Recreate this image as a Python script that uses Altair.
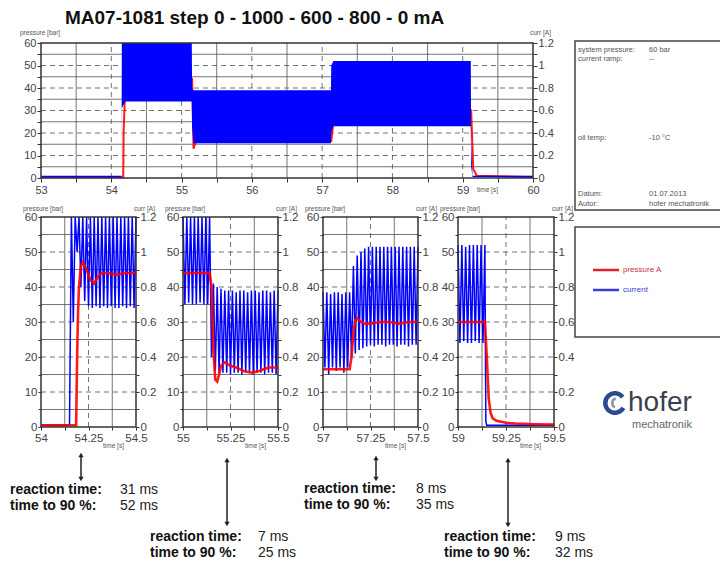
import altair as alt
import pandas as pd

W, H = 720, 567
FONT = "Liberation Sans"
RED = "#ff0000"
BLUE = "#0000ff"
GRID_C = "#505050"

TITLE = "MA07-1081 step 0 - 1000 - 600 - 800 - 0 mA"

# ---------------- top overview (53 s .. 60 s) ----------------
TOP_CUR_T = [53.00, 54.145, 54.15, 54.20, 55.145, 55.15, 55.17, 57.125, 57.13, 57.16, 59.115, 59.12, 59.14, 60.00]
TOP_CUR_LO = [0.005, 0.005, 0.62, 0.68, 0.68, 0.45, 0.31, 0.31, 0.40, 0.46, 0.46, 0.10, 0.01, 0.005]
TOP_CUR_HI = [0.02, 0.02, 1.20, 1.20, 1.20, 0.80, 0.78, 0.78, 1.00, 1.04, 1.04, 0.30, 0.02, 0.02]
TOP_P_T = [53.00, 54.17, 54.175, 54.19, 54.21, 55.15, 55.17, 55.19, 55.22, 57.13, 57.15, 57.17, 59.12, 59.15, 59.20, 60.00]
TOP_P = [0.3, 0.3, 20, 33, 44, 44, 13, 15, 17, 16.5, 22, 30, 30, 4, 1, 0.4]

# ---------------- zoom panels ----------------
P1_CUR_T = [54.00, 54.15, 54.16, 54.17, 54.18, 54.19, 54.20, 54.21, 54.22, 54.23, 54.24, 54.25, 54.26, 54.27,
            54.28, 54.29, 54.30, 54.31, 54.32, 54.33, 54.34, 54.35, 54.36, 54.37, 54.38, 54.39, 54.40, 54.41,
            54.42, 54.43, 54.44, 54.45, 54.46, 54.47, 54.48, 54.49, 54.50]
P1_CUR = [0.01, 0.01, 1.20, 0.60, 1.20, 1.00, 1.20, 0.80, 1.20, 0.72, 1.20, 0.69, 1.20, 0.68,
          1.20, 0.69, 1.20, 0.68, 1.20, 0.69, 1.20, 0.68, 1.20, 0.69, 1.20, 0.68, 1.20, 0.68,
          1.20, 0.69, 1.20, 0.68, 1.20, 0.69, 1.20, 0.68, 1.20]
P1_P_T = [54.00, 54.185, 54.19, 54.195, 54.20, 54.21, 54.22, 54.24, 54.26, 54.28, 54.30, 54.32, 54.35, 54.40, 54.45, 54.50]
P1_P = [0.5, 0.5, 20, 33, 40, 46, 47, 45, 42, 41, 43, 44, 44, 43.5, 44, 44]

P2_CUR_T = [55.00, 55.01, 55.02, 55.03, 55.04, 55.05, 55.06, 55.07, 55.08, 55.09, 55.10, 55.11, 55.12,
            55.13, 55.14, 55.15, 55.16, 55.17, 55.18, 55.19, 55.20, 55.21, 55.22, 55.23, 55.24, 55.25,
            55.26, 55.27, 55.28, 55.29, 55.30, 55.31, 55.32, 55.33, 55.34, 55.35, 55.36, 55.37, 55.38,
            55.39, 55.40, 55.41, 55.42, 55.43, 55.44, 55.45, 55.46, 55.47, 55.48, 55.49, 55.50]
P2_CUR = [1.20, 0.70, 1.20, 0.71, 1.20, 0.70, 1.20, 0.70, 1.20, 0.71, 1.20, 0.70, 1.20,
          0.70, 1.20, 0.40, 0.82, 0.32, 0.80, 0.31, 0.79, 0.31, 0.78, 0.31, 0.78, 0.30,
          0.78, 0.31, 0.77, 0.31, 0.78, 0.30, 0.78, 0.31, 0.77, 0.31, 0.78, 0.30, 0.78,
          0.31, 0.77, 0.31, 0.78, 0.30, 0.78, 0.31, 0.77, 0.31, 0.78, 0.30, 0.78]
P2_P_T = [55.00, 55.14, 55.15, 55.16, 55.17, 55.18, 55.19, 55.20, 55.22, 55.25, 55.28, 55.32, 55.36, 55.40, 55.45, 55.50]
P2_P = [44, 44, 40, 22, 13.5, 13, 15, 17.5, 18.5, 17.5, 17, 16, 15.5, 16, 17, 17]

P3_CUR_T = [57.00, 57.01, 57.02, 57.03, 57.04, 57.05, 57.06, 57.07, 57.08, 57.09, 57.10, 57.11, 57.12,
            57.13, 57.14, 57.15, 57.16, 57.17, 57.18, 57.19, 57.20, 57.21, 57.22, 57.23, 57.24, 57.25,
            57.26, 57.27, 57.28, 57.29, 57.30, 57.31, 57.32, 57.33, 57.34, 57.35, 57.36, 57.37, 57.38,
            57.39, 57.40, 57.41, 57.42, 57.43, 57.44, 57.45, 57.46, 57.47, 57.48, 57.49, 57.50]
P3_CUR = [0.77, 0.34, 0.77, 0.30, 0.76, 0.34, 0.77, 0.32, 0.77, 0.34, 0.76, 0.31, 0.77,
          0.34, 0.77, 0.40, 0.92, 0.42, 0.98, 0.44, 1.00, 0.45, 1.02, 0.46, 1.03, 0.47,
          1.03, 0.46, 1.03, 0.47, 1.03, 0.47, 1.03, 0.46, 1.03, 0.47, 1.03, 0.47, 1.03,
          0.46, 1.03, 0.47, 1.03, 0.47, 1.03, 0.46, 1.03, 0.47, 1.03, 0.47, 1.03]
P3_P_T = [57.00, 57.14, 57.15, 57.16, 57.17, 57.18, 57.20, 57.22, 57.25, 57.30, 57.35, 57.40, 57.45, 57.50]
P3_P = [16.5, 16.5, 20, 27, 30.5, 31, 30, 29.5, 29.5, 30, 30, 29.5, 30, 30]

P4_CUR_T = [59.00, 59.01, 59.02, 59.03, 59.04, 59.05, 59.06, 59.07, 59.08, 59.09, 59.10, 59.11, 59.12,
            59.13, 59.14, 59.145, 59.15, 59.20, 59.30, 59.40, 59.50]
P4_CUR = [1.04, 0.48, 1.04, 0.49, 1.03, 0.48, 1.04, 0.48, 1.04, 0.49, 1.04, 0.48, 1.04,
          0.48, 1.04, 0.03, 0.01, 0.01, 0.01, 0.01, 0.01]
P4_P_T = [59.00, 59.14, 59.15, 59.16, 59.17, 59.18, 59.20, 59.25, 59.30, 59.40, 59.50]
P4_P = [30, 30, 20, 8, 4, 2.5, 1.8, 1.2, 1.0, 0.8, 0.7]

# ---------------- grid / tick values ----------------
TOP_X_TICKS = [53, 53.5, 54, 54.5, 55, 55.5, 56, 56.5, 57, 57.5, 58, 58.5, 59, 59.5, 60]
TOP_GRID_SOLID = [53.5, 54.5, 55.5, 56.5, 57.5, 58.5, 59.5]
TOP_GRID_DASH = [54, 55, 56, 57, 58, 59]
Y_GRID_SOLID = [5, 15, 25, 35, 45, 55]
Y_GRID_DASH = [10, 20, 30, 40, 50]
Y_TICKS = [0, 5, 10, 15, 20, 25, 30, 35, 40, 45, 50, 55, 60]
CUR_TICKS = [0, 0.1, 0.2, 0.3, 0.4, 0.5, 0.6, 0.7, 0.8, 0.9, 1.0, 1.1, 1.2]

PANEL_XDOM = [(54, 54.5), (55, 55.5), (57, 57.5), (59, 59.5)]
PANEL_TICKS = [[54, 54.125, 54.25, 54.375, 54.5], [55, 55.125, 55.25, 55.375, 55.5],
               [57, 57.125, 57.25, 57.375, 57.5], [59, 59.125, 59.25, 59.375, 59.5]]
PANEL_GRID_SOLID = [[54.125, 54.375], [55.125, 55.375], [57.125, 57.375], [59.125, 59.375]]
PANEL_GRID_DASH = [[54.25], [55.25], [57.25], [59.25]]

REACTION_MS = [31, 7, 8, 9]
T90_MS = [52, 25, 35, 32]

INFO_ROWS = [("system pressure:", "60 bar"), ("current ramp:", "--"), ("oil temp:", "-10 \u00b0C"),
             ("Datum:", "01.07.2013"), ("Autor:", "hofer mechatronik")]

ONE = pd.DataFrame({"k": [0]})

# ---------------- layout (pixels) ----------------
TOP_XR = (41, 533)
TOP_YR = (178, 43)
BOT_YR = (427, 217)
PANEL_XR = [(41, 136), (183, 278), (323, 418), (458, 554)]


def sc(dom, rng):
    return alt.Scale(domain=list(dom), range=list(rng), nice=False, zero=False)


def panel(xdom, xr, yr, xticks, xfmt, xlabel_expr, vsolid, vdash, lab_fs, tick,
          p_df, c_df, c_area, p_w, c_w, red_top):
    xs = sc(xdom, xr)
    ys = sc((0, 60), yr)
    cs = sc((0, 1.2), yr)
    out = []

    def hgrid(vals, dash):
        m = dict(color=GRID_C, strokeWidth=0.8)
        if dash:
            m["strokeDash"] = [5, 4]
        return alt.Chart(pd.DataFrame({"v": vals})).mark_rule(**m).encode(
            y=alt.Y("v:Q", scale=ys, axis=None),
            x=alt.XDatum(xdom[0], scale=xs, axis=None),
            x2=alt.X2Datum(xdom[1]))

    def vgrid(vals, dash):
        m = dict(color=GRID_C, strokeWidth=0.8)
        if dash:
            m["strokeDash"] = [5, 4]
        return alt.Chart(pd.DataFrame({"v": vals})).mark_rule(**m).encode(
            x=alt.X("v:Q", scale=xs, axis=None),
            y=alt.YDatum(0, scale=ys, axis=None),
            y2=alt.Y2Datum(60))

    out += [hgrid(Y_GRID_SOLID, False), hgrid(Y_GRID_DASH, True),
            vgrid(vsolid, False), vgrid(vdash, True)]

    common = dict(labelFont=FONT, labelFontSize=lab_fs, labelColor="#444", tickColor="#333",
                  tickSize=tick, domain=False, grid=False, title=None, labelOverlap=False)
    xaxis = alt.Axis(orient="bottom", offset=yr[0] - H, values=xticks, format=xfmt,
                     labelExpr=xlabel_expr, labelFlush=False, labelPadding=2, **common)
    yaxis = alt.Axis(orient="left", offset=-xr[0], values=Y_TICKS, format="d",
                     labelExpr="datum.value % 10 == 0 ? datum.label : ''", labelPadding=1, **common)
    caxis = alt.Axis(orient="right", offset=xr[1] - W, values=CUR_TICKS, format=".1~f",
                     labelExpr="round(datum.value*10) % 2 == 0 ? datum.label : ''",
                     labelPadding=1, **common)

    red = alt.Chart(p_df).mark_line(color=RED, strokeWidth=p_w, opacity=0.9).encode(
        x=alt.X("t:Q", scale=xs, axis=xaxis),
        y=alt.Y("p:Q", scale=ys, axis=yaxis))
    if c_area:
        blue = alt.Chart(c_df).mark_area(color=BLUE, opacity=1).encode(
            x=alt.X("t:Q", scale=xs, axis=None),
            y=alt.Y("lo:Q", scale=cs, axis=caxis),
            y2=alt.Y2("hi:Q"))
    else:
        blue = alt.Chart(c_df).mark_line(color=BLUE, strokeWidth=c_w).encode(
            x=alt.X("t:Q", scale=xs, axis=None),
            y=alt.Y("c:Q", scale=cs, axis=caxis))
    out += [blue, red] if red_top else [red, blue]

    frame = alt.Chart(ONE).mark_rect(fill="transparent", stroke="#333", strokeWidth=1.5).encode(
        x=alt.XDatum(xdom[0], scale=xs, axis=None), x2=alt.X2Datum(xdom[1]),
        y=alt.YDatum(0, scale=ys, axis=None), y2=alt.Y2Datum(60))
    out.append(frame)
    return out


def txt(s, x, y, size=8, color="#444", weight="normal", align="left", baseline="middle", font=FONT):
    return alt.Chart(ONE).mark_text(text=s, font=font, fontSize=size, color=color, fontWeight=weight,
                                    align=align, baseline=baseline).encode(
        x=alt.value(x), y=alt.value(y))


layers = []

# title
layers.append(txt(TITLE, 65, 24, size=19, color="#111", weight="bold", baseline="alphabetic"))

# top panel
top_c = pd.DataFrame({"t": TOP_CUR_T, "lo": TOP_CUR_LO, "hi": TOP_CUR_HI})
top_p = pd.DataFrame({"t": TOP_P_T, "p": TOP_P})
layers += panel((53, 60), TOP_XR, TOP_YR, TOP_X_TICKS, ".0f",
                "datum.value % 1 == 0 ? datum.label : ''",
                TOP_GRID_SOLID, TOP_GRID_DASH, 11, 4, top_p, top_c, True, 2, 1, False)
layers.append(txt("pressure [bar]", 20, 33, size=6.5, color="#555"))
layers.append(txt("curr [A]", 530, 33, size=6.5, color="#555"))
layers.append(txt("time [s]", 477, 190, size=6.5, color="#555"))

# bottom panels
cur_sets = [(P1_CUR_T, P1_CUR), (P2_CUR_T, P2_CUR), (P3_CUR_T, P3_CUR), (P4_CUR_T, P4_CUR)]
p_sets = [(P1_P_T, P1_P), (P2_P_T, P2_P), (P3_P_T, P3_P), (P4_P_T, P4_P)]
for i in range(4):
    cdf = pd.DataFrame({"t": cur_sets[i][0], "c": cur_sets[i][1]})
    pdf = pd.DataFrame({"t": p_sets[i][0], "p": p_sets[i][1]})
    xr = PANEL_XR[i]
    layers += panel(PANEL_XDOM[i], xr, BOT_YR, PANEL_TICKS[i], ".2~f",
                    "(datum.value*4) % 1 == 0 ? datum.label : ''",
                    PANEL_GRID_SOLID[i], PANEL_GRID_DASH[i], 11.5, 3, pdf, cdf, False, 2.6, 1.5, True)
    layers.append(txt("pressure [bar]", xr[0] - 18, 209, size=6.5, color="#555"))
    layers.append(txt("curr [A]", xr[1] - 2, 209, size=6.5, color="#555"))
    layers.append(txt("time [s]", xr[0] + 62, 446, size=6.5, color="#555"))

# info box
layers.append(alt.Chart(ONE).mark_rect(fill="white", stroke="#444", strokeWidth=1.5).encode(
    x=alt.value(575), x2=alt.value(740), y=alt.value(41), y2=alt.value(210)))
info_y = [50, 59, 138, 194, 204]
for (k, v), y in zip(INFO_ROWS, info_y):
    layers.append(txt(k, 578, y, size=7.5, color="#555"))
    layers.append(txt(v, 649, y, size=7.5, color="#555"))

# legend box
layers.append(alt.Chart(ONE).mark_rect(fill="white", stroke="#444", strokeWidth=1.5).encode(
    x=alt.value(575), x2=alt.value(740), y=alt.value(227), y2=alt.value(337)))
layers.append(alt.Chart(ONE).mark_rule(color="#e0202a", strokeWidth=2.5).encode(
    x=alt.value(593), x2=alt.value(619), y=alt.value(270)))
layers.append(alt.Chart(ONE).mark_rule(color="#3a3ad8", strokeWidth=2.5).encode(
    x=alt.value(593), x2=alt.value(619), y=alt.value(290)))
layers.append(txt("pressure A", 623, 270, size=8, color="#c8304a"))
layers.append(txt("current", 623, 290, size=8, color="#3a3ad0"))

# logo
layers.append(alt.Chart(ONE).mark_arc(theta=2.1, theta2=7.2, radius=12, radius2=7.5, color="#2e4a8c").encode(
    x=alt.value(615), y=alt.value(403)))
layers.append(alt.Chart(ONE).mark_arc(theta=3.6, theta2=6.0, radius=6, radius2=3.5, color="#8a93a8").encode(
    x=alt.value(617), y=alt.value(403)))
layers.append(txt("hofer", 628, 411, size=28, color="#3a3f4f", baseline="alphabetic"))
layers.append(txt("mechatronik", 632, 425, size=11, color="#666"))

# reaction-time annotations
GROUPS = [(10, 120, 81, 452, 482, 490, 506), (150, 258, 227, 457, 527, 537, 553),
          (304, 416, 376, 455, 482, 489, 505), (444, 555, 508, 457, 528, 537, 553)]
for i, (tx, vx, ax, ay1, ay2, ry, ty) in enumerate(GROUPS):
    layers.append(alt.Chart(ONE).mark_rule(color="#222", strokeWidth=1.5).encode(
        x=alt.value(ax), y=alt.value(ay1 + 3), y2=alt.value(ay2 - 3)))
    layers.append(alt.Chart(ONE).mark_point(shape="triangle-up", filled=True, size=28, color="#222", opacity=1).encode(
        x=alt.value(ax), y=alt.value(ay1 + 3)))
    layers.append(alt.Chart(ONE).mark_point(shape="triangle-down", filled=True, size=28, color="#222", opacity=1).encode(
        x=alt.value(ax), y=alt.value(ay2 - 3)))
    layers.append(txt("reaction time:", tx, ry, size=14, color="#111", weight="bold"))
    layers.append(txt("time to 90 %:", tx, ty, size=14, color="#111", weight="bold"))
    layers.append(txt(f"{REACTION_MS[i]} ms", vx, ry, size=14, color="#222"))
    layers.append(txt(f"{T90_MS[i]} ms", vx, ty, size=14, color="#222"))

chart = alt.layer(*layers).resolve_scale(x="independent", y="independent").properties(
    width=W, height=H, autosize=alt.AutoSizeParams(type="none"), padding=0, background="white"
).configure_view(strokeWidth=0)

chart.save("out.html", embed_options={"renderer": "svg", "actions": False})
